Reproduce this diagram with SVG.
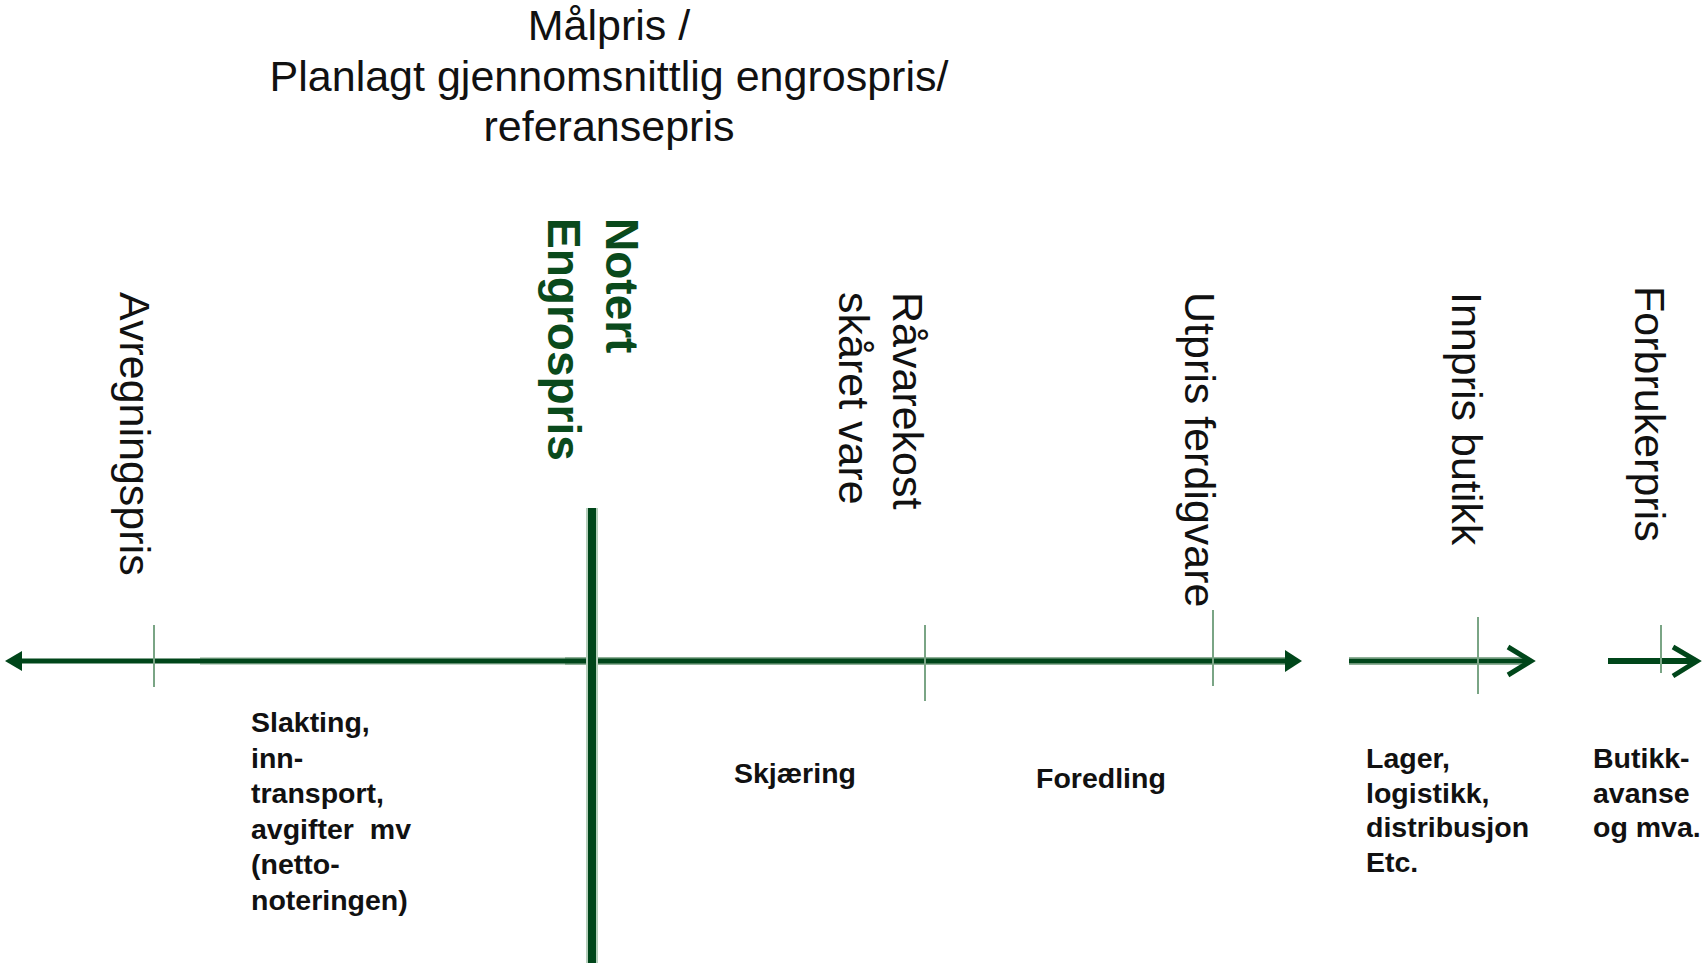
<svg xmlns="http://www.w3.org/2000/svg" width="1708" height="965" viewBox="0 0 1708 965">
<style>
.title{font-family:"Liberation Sans",Arial,sans-serif;font-size:43px;fill:#111}
.vlab{font-family:"Liberation Sans",Arial,sans-serif;font-size:43px;fill:#111}
.vlab-g{font-family:"Liberation Sans",Arial,sans-serif;font-size:46px;font-weight:bold;fill:#0a4a1c}
.cost{font-family:"Liberation Sans",Arial,sans-serif;font-size:28.5px;font-weight:bold;fill:#111}
.tick{stroke:#7aa585;stroke-width:2;fill:none}
.halo-l{stroke:#c2d5c6;stroke-width:8;fill:none}
.halo-m{stroke:#8fb097;stroke-width:8;fill:none}
.dark{stroke:#00461a;fill:none}
.tri{fill:#00461a}
.chev{stroke:#00461a;stroke-width:5;fill:none;stroke-linecap:butt;stroke-linejoin:miter}
</style>
<rect width="1708" height="965" fill="#ffffff"/>

<g id="title">
<text class="title" x="609" y="40" text-anchor="middle">Målpris /</text>
<text class="title" x="609" y="91" text-anchor="middle">Planlagt gjennomsnittlig engrospris/</text>
<text class="title" x="609" y="141" text-anchor="middle">referansepris</text>
</g>

<g id="connectors">
<!-- main axis segment 1 -->
<line class="halo-l" x1="200" y1="661" x2="565" y2="661"/>
<line class="halo-m" x1="565" y1="661" x2="1288" y2="661"/>
<line class="dark" x1="18" y1="661" x2="1290" y2="661" stroke-width="5"/>
<polygon class="tri" points="5,661 22,651 22,671"/>
<polygon class="tri" points="1302,661 1285,650 1285,672"/>
<!-- segment 2 -->
<line class="halo-m" x1="1349" y1="661" x2="1527" y2="661"/>
<line class="dark" x1="1349" y1="661" x2="1529" y2="661" stroke-width="4.5"/>
<polyline class="chev" points="1508,647 1531,661 1508,675"/>
<!-- segment 3 -->
<line class="dark" x1="1608" y1="661" x2="1695" y2="661" stroke-width="6"/>
<polyline class="chev" points="1673,647 1697,661 1673,676"/>
<!-- thick vertical notert bar -->
<line x1="592" y1="508" x2="592" y2="963" stroke="#b5cfbb" stroke-width="12"/>
<line class="dark" x1="592" y1="508" x2="592" y2="963" stroke-width="8"/>
<!-- ticks -->
<line class="tick" x1="154" y1="625" x2="154" y2="687"/>
<line class="tick" x1="925" y1="625" x2="925" y2="701"/>
<line class="tick" x1="1213" y1="610" x2="1213" y2="686"/>
<line class="tick" x1="1478" y1="617" x2="1478" y2="694"/>
<line class="tick" x1="1661" y1="625" x2="1661" y2="673"/>
</g>

<g id="avregningspris" transform="translate(120,292) rotate(90)">
<text class="vlab" x="0" y="0">Avregningspris</text>
</g>
<g id="notert-engrospris" transform="translate(606,218) rotate(90)">
<text class="vlab-g" x="0" y="0">Notert</text>
<text class="vlab-g" x="0" y="58">Engrospris</text>
</g>
<g id="ravarekost" transform="translate(893,292) rotate(90)">
<text class="vlab" x="0" y="0">Råvarekost</text>
<text class="vlab" x="0" y="54">skåret vare</text>
</g>
<g id="utpris" transform="translate(1185,292) rotate(90)">
<text class="vlab" x="0" y="0">Utpris ferdigvare</text>
</g>
<g id="innpris" transform="translate(1452,292) rotate(90)">
<text class="vlab" x="0" y="0">Innpris butikk</text>
</g>
<g id="forbrukerpris" transform="translate(1635,286) rotate(90)">
<text class="vlab" x="0" y="0">Forbrukerpris</text>
</g>

<g id="slakting">
<text class="cost" x="251" y="732">Slakting,</text>
<text class="cost" x="251" y="767.5">inn-</text>
<text class="cost" x="251" y="803">transport,</text>
<text class="cost" x="251" y="838.5">avgifter&#160; mv</text>
<text class="cost" x="251" y="874">(netto-</text>
<text class="cost" x="251" y="909.5">noteringen)</text>
</g>
<g id="skjaering">
<text class="cost" x="734" y="783">Skjæring</text>
</g>
<g id="foredling">
<text class="cost" x="1036" y="788">Foredling</text>
</g>
<g id="lager">
<text class="cost" x="1366" y="768">Lager,</text>
<text class="cost" x="1366" y="802.5">logistikk,</text>
<text class="cost" x="1366" y="837">distribusjon</text>
<text class="cost" x="1366" y="871.5">Etc.</text>
</g>
<g id="butikk">
<text class="cost" x="1593" y="768">Butikk-</text>
<text class="cost" x="1593" y="802.5">avanse</text>
<text class="cost" x="1593" y="837">og mva.</text>
</g>
</svg>
